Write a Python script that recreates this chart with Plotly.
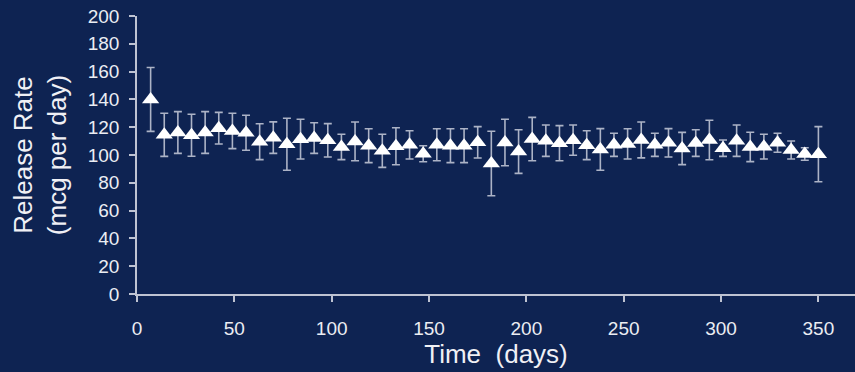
import plotly.graph_objects as go

days = [7 * k for k in range(1, 51)]
release_rate = [140, 114.5, 116.2, 114.2, 116.2, 119.3, 117.3, 116.0, 109.6, 112.5,
                107.7, 111.4, 112.2, 110.6, 105.8, 109.8, 106.7, 103.0, 106.3, 107.3,
                100.9, 107.4, 106.7, 106.7, 109.1, 93.9, 109.0, 102.5, 111.5, 110.3,
                108.5, 110.7, 107.1, 104.0, 107.3, 108.0, 110.8, 107.3, 108.8, 104.7,
                108.6, 110.8, 104.9, 110.3, 105.8, 106.0, 108.8, 103.6, 100.7, 100.6]
error = [23, 15.5, 15.0, 15.1, 15.0, 11.4, 12.7, 12.6, 12.9, 11.3,
         18.7, 14.3, 11.0, 12.0, 9.1, 13.9, 12.2, 11.9, 13.3, 10.2,
         5.8, 11.5, 12.2, 12.2, 11.3, 23.2, 16.7, 15.7, 15.6, 11.3,
         12.6, 10.9, 10.4, 15.0, 8.3, 10.9, 12.9, 8.3, 10.2, 11.6,
         9.6, 14.2, 5.9, 11.3, 10.6, 8.9, 6.8, 6.5, 4.5, 19.8]

y_ticks = list(range(0, 201, 20))
x_ticks = list(range(0, 351, 50))

BG = "rgb(14,35,82)"
AXIS = "rgb(190,195,210)"
FONT = "Liberation Sans, Arial, sans-serif"

fig = go.Figure()
fig.add_trace(go.Scatter(
    x=days, y=release_rate, mode="markers",
    marker=dict(symbol="triangle-up", size=15, color="white", line=dict(width=0)),
    error_y=dict(type="data", array=error, visible=True,
                 color="rgba(200,205,218,0.85)", thickness=1.6, width=4),
    showlegend=False,
))

fig.update_layout(
    width=855, height=372,
    margin=dict(l=137, r=0, t=16, b=78),
    paper_bgcolor=BG, plot_bgcolor=BG,
    font=dict(family=FONT, color="white"),
    xaxis=dict(
        range=[0, 368.8], tickvals=x_ticks, ticks="outside", ticklen=6,
        tickcolor=AXIS, tickwidth=1.5, showline=True, linecolor=AXIS, linewidth=1.5,
        showgrid=False, zeroline=False, tickfont=dict(size=19, color="rgb(235,237,242)"),
        ticklabelstandoff=10,
        title=dict(text="Time  (days)", font=dict(size=26, color="rgb(240,240,245)"), standoff=4),
    ),
    yaxis=dict(
        range=[0, 200], tickvals=y_ticks, ticks="outside", ticklen=6,
        tickcolor=AXIS, tickwidth=1.5, showline=True, linecolor=AXIS, linewidth=1.5,
        showgrid=False, zeroline=False, tickfont=dict(size=19, color="rgb(235,237,242)"),
        ticklabelstandoff=6,
        title=dict(text="Release Rate<br>(mcg per day)", font=dict(size=26, color="rgb(240,240,245)"), standoff=14),
    ),
)

fig.write_html(
    "out.html",
    config={"displayModeBar": False},
    post_script="document.body.style.margin='0';document.body.style.background='rgb(14,35,82)';",
)
